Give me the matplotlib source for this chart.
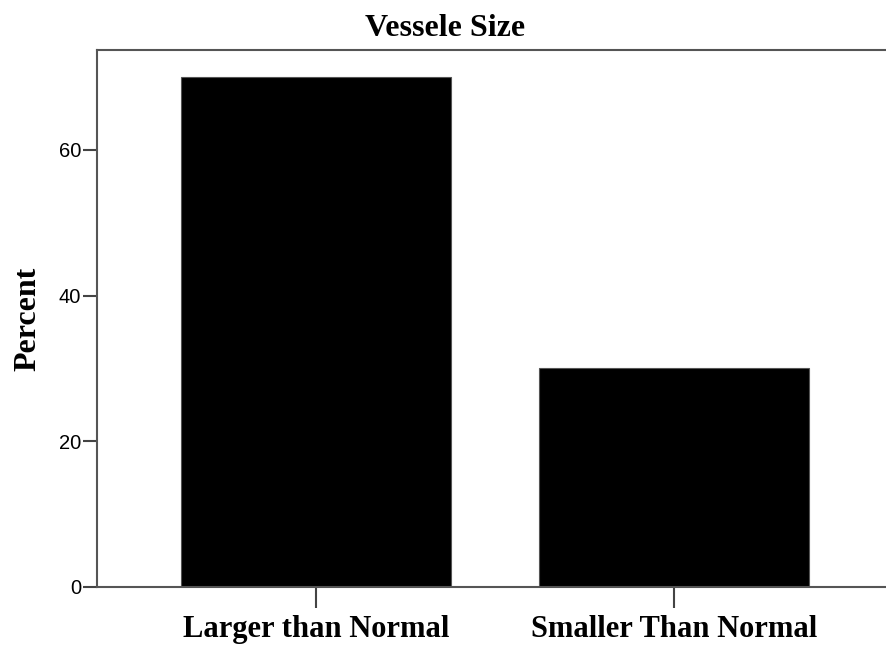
import numpy as np
import matplotlib.pyplot as plt

categories = ['Larger than Normal', 'Smaller Than Normal']
percent = [70.0, 30.0]
yticks = [0, 20, 40, 60]

fig = plt.figure(figsize=(8.86, 6.47), dpi=100)
ax = fig.add_axes([97 / 886, 1 - 587 / 647, 1 - 97 / 886, (587 - 50) / 647])

x = np.arange(len(categories))
ax.bar(x, percent, width=0.754, color='black', edgecolor='#555555', linewidth=0.8)

ax.set_xlim(-0.612, 1.592)
ax.set_ylim(0, 73.7)
ax.set_yticks(yticks)
ax.set_yticklabels([str(v) for v in yticks], family='Liberation Sans', fontsize=14.5)
ax.set_xticks(x)
ax.set_xticklabels(categories, family='Liberation Serif', fontweight='bold', fontsize=22)

ax.tick_params(axis='y', length=10, width=1.5, color='#444444', pad=1.5)
ax.tick_params(axis='x', length=15, width=1.5, color='#444444', pad=5)

for side in ['left', 'top', 'bottom']:
    ax.spines[side].set_color('#555555')
    ax.spines[side].set_linewidth(1.5)
ax.spines['right'].set_visible(False)

ax.set_ylabel('Percent', family='Liberation Serif', fontweight='bold', fontsize=23, labelpad=12)
ax.set_title('Vessele Size', family='Liberation Serif', fontweight='bold', fontsize=23, pad=10)
ax.title.set_position((0.441, 1.0))

fig.savefig('out.png', dpi=100)
